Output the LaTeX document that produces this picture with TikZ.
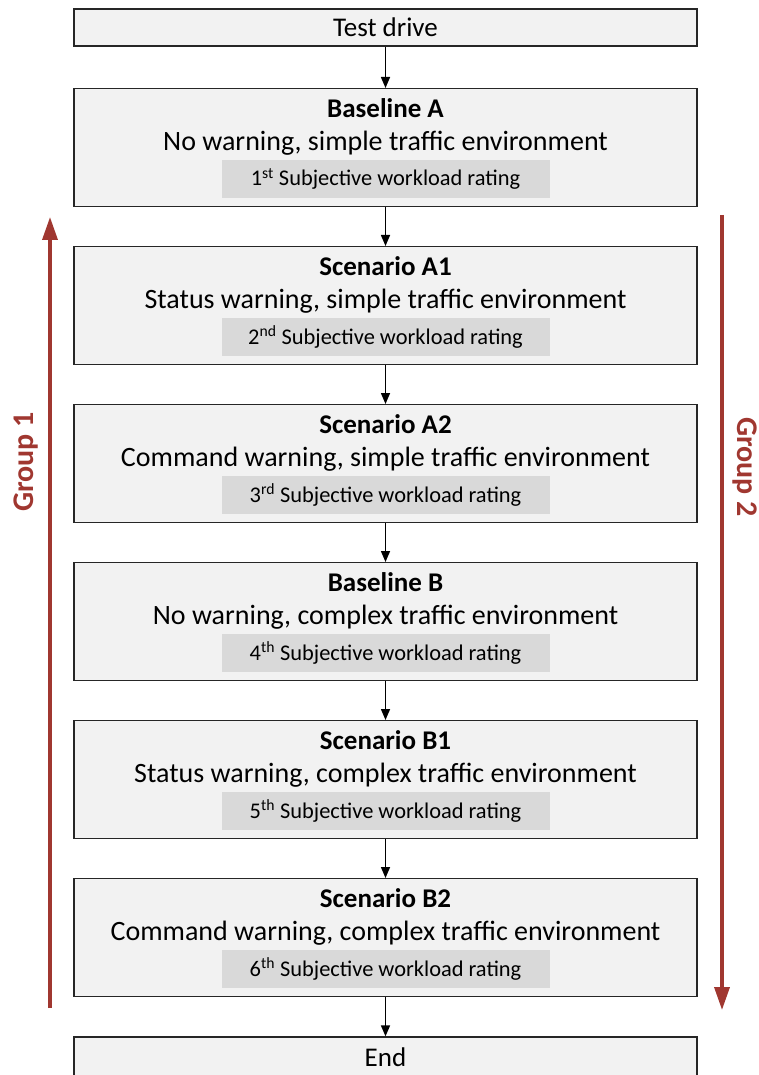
\documentclass[tikz,border=0pt]{standalone}
\usepackage{fontspec}
\setmainfont{Carlito}
\usetikzlibrary{arrows.meta}
\definecolor{grpred}{RGB}{160,55,48}
\definecolor{boxgray}{RGB}{242,242,242}
\definecolor{rategray}{RGB}{217,217,217}
\newcommand{\bigtxt}{\fontsize{27}{32}\selectfont}
\newcommand{\desctxt}{\fontsize{28}{33}\selectfont}
\newcommand{\ratetxt}{\fontsize{22.4}{26}\selectfont}

\begin{document}
\begin{tikzpicture}[x=1pt,y=-1pt,
		stagebox/.style={draw=black!85, fill=boxgray, line width=1.3pt, minimum width=623pt, minimum height=118pt, anchor=north, inner sep=0pt},
		endbox/.style={draw=black!85, fill=boxgray, line width=1.3pt, minimum width=623pt, minimum height=37pt, inner sep=0pt, font=\bigtxt},
		ratebox/.style={fill=rategray, minimum width=328pt, minimum height=38pt, inner sep=0pt, font=\ratetxt},
		flow/.style={-{Triangle[length=11pt,width=9pt]}, line width=1.5pt},
		grouparrow/.style={-{Triangle[length=23pt,width=15pt]}, line width=3.5pt, draw=grpred},
		grouplabel/.style={text=grpred, inner sep=0pt, font=\fontsize{30}{35}\selectfont\bfseries}]
		\useasboundingbox (0,0) rectangle (759,1075);
		\clip (0,0) rectangle (759,1075);

		\node[endbox] (drive) at (385.5,27.5) {Test drive};

		\foreach \name/\head/\desc/\num/\ord [count=\i from 0] in {
			baseA/Baseline A/{No warning, simple traffic environment}/1/st,
			scenA1/Scenario A1/{Status warning, simple traffic environment}/2/nd,
			scenA2/Scenario A2/{Command warning, simple traffic environment}/3/rd,
			baseB/Baseline B/{No warning, complex traffic environment}/4/th,
			scenB1/Scenario B1/{Status warning, complex traffic environment}/5/th,
			scenB2/Scenario B2/{Command warning, complex traffic environment}/6/th}{
			\node[stagebox] (\name) at (385.5, 88+158*\i) {};
			\node[font=\bigtxt\bfseries] (\name-head) at (385.5, 108+158*\i) {\head};
			\node[font=\desctxt] (\name-desc) at (385.5, 143+158*\i) {\desc};
			\node[ratebox] (\name-rate) at (385.5, 179+158*\i) {\num\textsuperscript{\ord} Subjective workload rating};
		}

		\node[endbox, minimum height=40pt] (end) at (385.5,1057) {End};

		\foreach \from/\to in {drive/baseA, baseA/scenA1, scenA1/scenA2, scenA2/baseB, baseB/scenB1, scenB1/scenB2, scenB2/end}{
			\draw[flow] (\from) -- (\to);
		}

		% group order arrows
		\coordinate (g1start) at (50,1008);
		\coordinate (g1end) at (50,217);
		\draw[grouparrow] (g1start) -- (g1end);
		\node[grouplabel, rotate=90] (g1label) at (26,462) {Group 1};

		\coordinate (g2start) at (722,215);
		\coordinate (g2end) at (722,1010);
		\draw[grouparrow] (g2start) -- (g2end);
		\node[grouplabel, rotate=-90] (g2label) at (745,467) {Group 2};
	\end{tikzpicture}
\end{document}
